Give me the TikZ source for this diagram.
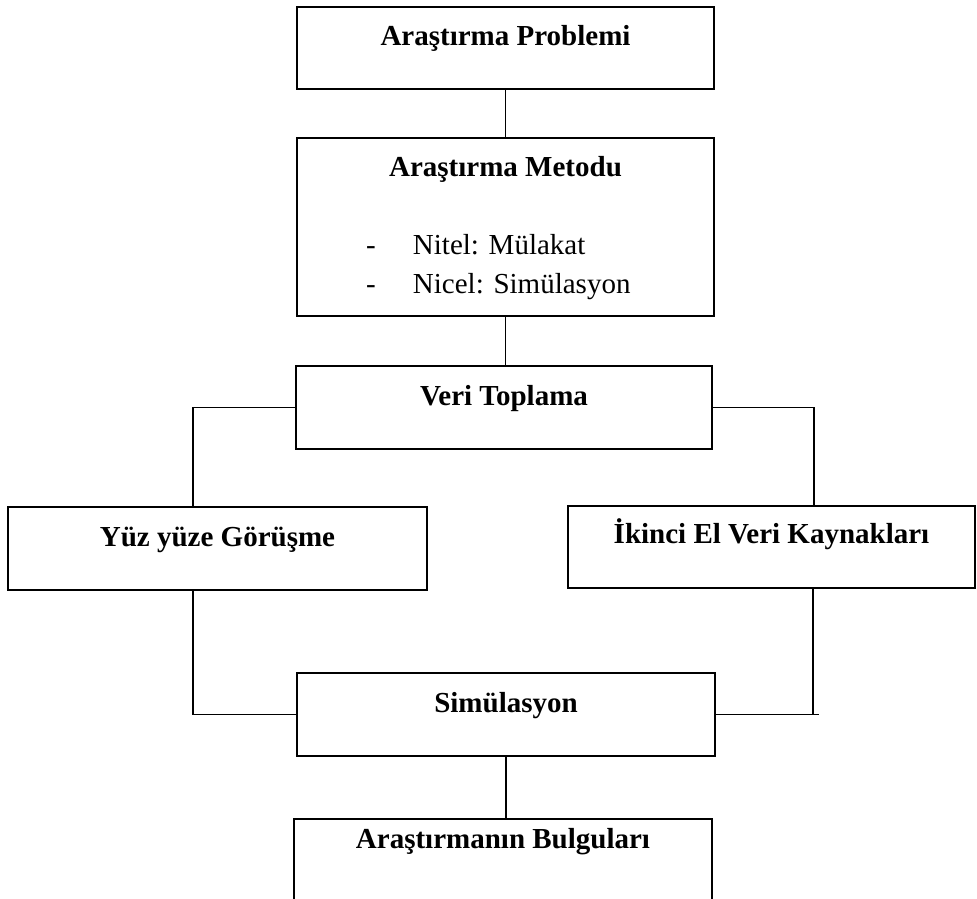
\documentclass[tikz,border=0pt]{standalone}
\usepackage{fontspec}
\setmainfont{Liberation Serif}
\begin{document}
\begin{tikzpicture}[x=1pt,y=-1pt,
  box/.style={draw, line width=2.7pt, rectangle, inner sep=0pt, outer sep=0pt,
    anchor=north west, align=center, font=\bfseries\fontsize{29}{34}\selectfont},
  link/.style={line width=1.7pt},
  item/.style={anchor=base west, inner sep=0pt, outer sep=0pt,
    font=\fontsize{29}{34}\selectfont}]
\useasboundingbox (0,0) rectangle (977,898);
\clip (0,0) rectangle (977,898);

% boxes
\node[box, minimum width=417pt, text height=38pt, text depth=44pt] (prob) at (297,7) {Araştırma Problemi};
\node[box, minimum width=417pt, text height=38pt, text depth=140pt] (meth) at (297,138) {Araştırma Metodu};
\node[item] (nitel) at (366,254) {\makebox[47pt][l]{-}Nitel: Mülakat};
\node[item] (nicel) at (366,293) {\makebox[47pt][l]{-}Nicel: Simülasyon};
\node[box, minimum width=416pt, text height=39pt, text depth=44pt] (veri) at (296,366) {Veri Toplama};
\node[box, minimum width=419pt, text height=39pt, text depth=44pt] (yuz) at (8,507) {Yüz yüze Görüşme};
\node[box, minimum width=407pt, text height=37pt, text depth=45pt] (ikinci) at (568,506) {İkinci El Veri Kaynakları};
\node[box, minimum width=418pt, text height=39pt, text depth=44pt] (sim) at (297,673) {Simülasyon};
\node[box, minimum width=418pt, text height=29pt, text depth=100pt] (bulgu) at (294,819) {Araştırmanın Bulguları};

% connectors
\draw[link] (prob.south) -- (prob.south |- meth.north);
\draw[link] (meth.south) -- (meth.south |- veri.north);
\draw[link] (veri.west) -| ([xshift=-24.5pt]yuz.north);
\draw[link] (veri.east) -| ([xshift=42.5pt]ikinci.north);
\draw[link] ([xshift=-24.5pt]yuz.south) |- (sim.west);
\coordinate (rc) at ([xshift=41.5pt]ikinci.south |- sim.east);
\draw[link] ([xshift=41.5pt]ikinci.south) -- (rc);
\draw[link] (sim.east) -- ([xshift=6pt]rc);
\draw[link] (sim.south) -- (sim.south |- bulgu.north);
\end{tikzpicture}
\end{document}
